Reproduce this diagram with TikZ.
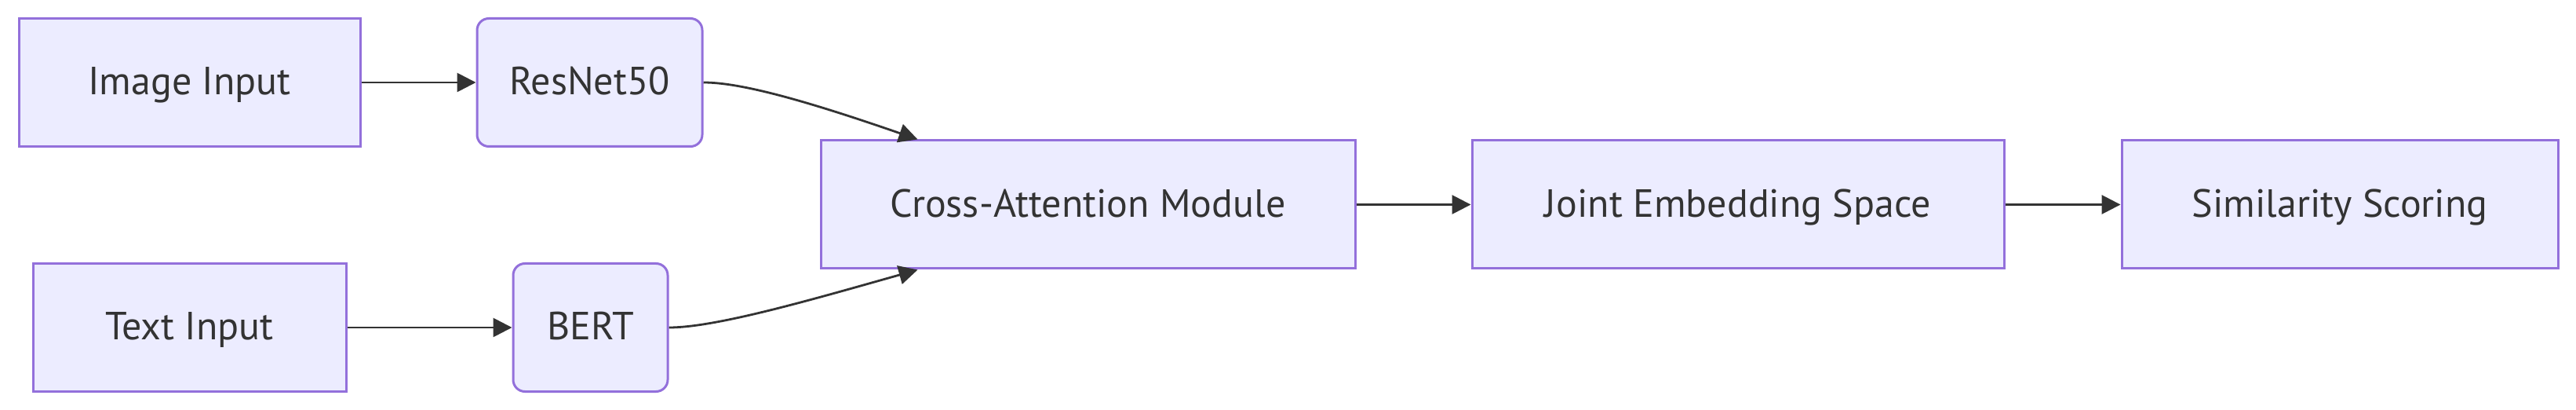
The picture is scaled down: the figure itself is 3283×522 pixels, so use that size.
\documentclass[tikz,border=0pt]{standalone}
\usepackage{fontspec}
\setmainfont{PT Sans}
\usepackage{xcolor}
\usepackage{tikz}
\usetikzlibrary{arrows.meta, positioning, calc}
\definecolor{boxfill}{RGB}{236,236,255}
\definecolor{boxline}{RGB}{147,112,219}
\definecolor{mydark}{RGB}{51,51,51}
\tikzset{
  block/.style={rectangle, draw=boxline, fill=boxfill,
    align=center, minimum height=40.75pt, inner sep=0pt,
    text height=10pt, text depth=2pt,
    font=\fontsize{12.5}{14}\selectfont, text=mydark, line width=0.75pt},
  roundblock/.style={block, rounded corners=3.75pt},
  arrow/.style={-{Triangle[length=6pt, width=6pt]}, line width=0.7pt, color=mydark}
}
\begin{document}
\begin{tikzpicture}[x=0.25pt, y=-0.25pt]
  \useasboundingbox (0,0) rectangle (3283,522);

  % Input branches
  \node[block, minimum width=108.75pt] (img) at (241.5,105) {Image Input};
  \node[roundblock, minimum width=71.75pt] (resnet) at (751.5,105) {ResNet50};
  \node[block, minimum width=99.75pt] (txt) at (241.5,417) {Text Input};
  \node[roundblock, minimum width=49.25pt] (bert) at (752.5,417) {BERT};

  % Fusion chain
  \node[block, minimum width=170.25pt] (cross) at (1386.5,260.5) {Cross-Attention Module};
  \node[block, minimum width=169.5pt] (joint) at (2215,260.5) {Joint Embedding Space};
  \node[block, minimum width=139pt] (sim) at (2982,260.5) {Similarity Scoring};

  \coordinate (crosstop) at ($(cross.north west)+(125,0)$);
  \coordinate (crossbot) at ($(cross.south west)+(125,0)$);

  \draw[arrow] (img) -- (resnet);
  \draw[arrow] (txt) -- (bert);
  \draw[arrow] (resnet.east) .. controls ($(resnet.east)+(45,0)$) and ($(crosstop)+(-150,-52)$) .. (crosstop);
  \draw[arrow] (bert.east) .. controls ($(bert.east)+(60,0)$) and ($(crossbot)+(-135,38)$) .. (crossbot);
  \draw[arrow] (cross) -- (joint);
  \draw[arrow] (joint) -- (sim);
\end{tikzpicture}
\end{document}
